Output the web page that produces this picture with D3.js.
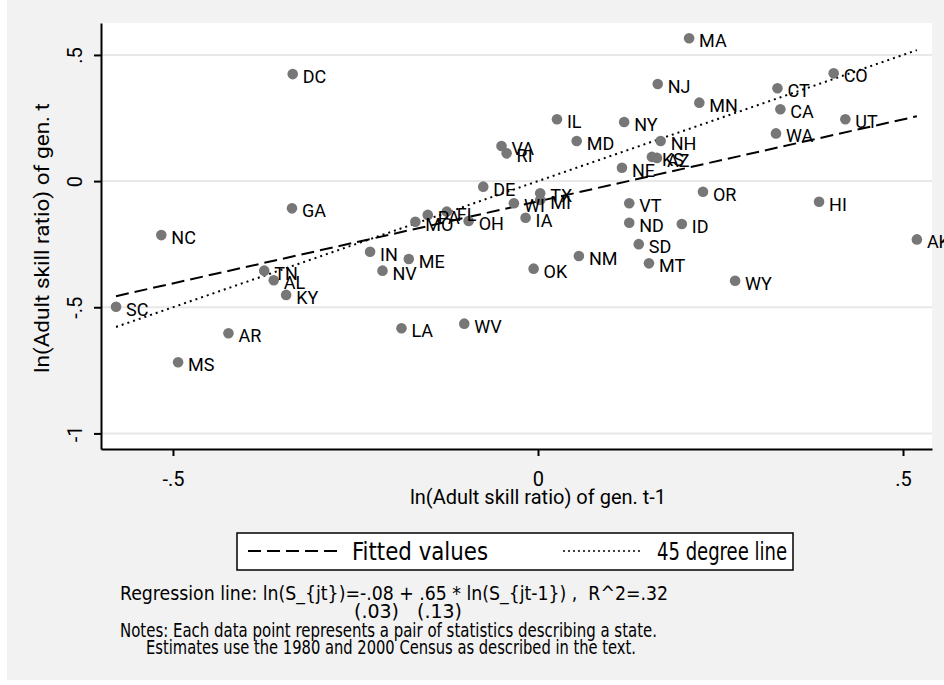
<!DOCTYPE html>
<html>
<head>
<meta charset="utf-8">
<script src="https://cdn.jsdelivr.net/npm/d3@7"></script>
<style>
  body { margin: 0; background: #fff; }
  text { font-family: Roboto, "DejaVu Sans", sans-serif; }
  .note { font-family: "DejaVu Sans Condensed", "Liberation Sans Narrow", sans-serif; white-space: pre; }
</style>
</head>
<body>
<div class="canva"></div>
<script>
// state codes and the two log skill ratios
const states = ["MA","DC","GA","NC","SC","TN","AL","KY","AR","MS",
                "IN","NV","ME","OK","NM","SD","MT","LA","WV","WY",
                "AK","ID","OR","HI","CO","CT","CA","WA","UT","NJ",
                "MN","NY","MD","IL","NH","KS","AZ","NE","VA","RI",
                "DE","TX","WI","MI","PA","FL","MO","OH","IA","VT","ND"];
const prevRatio = [0.207,-0.336,-0.337,-0.516,-0.578,-0.375,-0.362,-0.345,-0.424,-0.493,
                   -0.230,-0.213,-0.177,-0.006,0.056,0.138,0.152,-0.187,-0.101,0.270,
                   0.519,0.197,0.226,0.385,0.405,0.328,0.332,0.326,0.421,0.164,
                   0.221,0.118,0.053,0.026,0.168,0.156,0.163,0.115,-0.050,-0.043,
                   -0.075,0.003,-0.033,0.003,-0.151,-0.125,-0.168,-0.095,-0.017,0.125,0.125];
const curRatio = [0.566,0.424,-0.108,-0.214,-0.498,-0.355,-0.393,-0.451,-0.603,-0.718,
                  -0.280,-0.355,-0.309,-0.347,-0.297,-0.250,-0.326,-0.583,-0.565,-0.395,
                  -0.231,-0.170,-0.042,-0.082,0.427,0.368,0.285,0.189,0.245,0.385,
                  0.311,0.234,0.159,0.245,0.159,0.096,0.092,0.053,0.139,0.110,
                  -0.022,-0.048,-0.088,-0.075,-0.134,-0.121,-0.161,-0.158,-0.145,-0.088,-0.165];

// end points of the fitted line and of the 45 degree line
const fitX = [-0.578, 0.519];
const fitY = [-0.456, 0.257];
const diagX = [-0.578, 0.519];
const diagY = [-0.578, 0.519];

const xTicks = [-0.5, 0, 0.5];
const xTickLabels = ["-.5", "0", ".5"];
const yTicks = [-1, -0.5, 0, 0.5];
const yTickLabels = ["-1", "-.5", "0", ".5"];

const legendLabels = ["Fitted values", "45 degree line"];
const noteLines = [
  "Regression line: ln(S_{jt})=-.08 + .65 * ln(S_{jt-1}) ,  R^2=.32",
  "(.03)   (.13)",
  "Notes: Each data point represents a pair of statistics describing a state.",
  "Estimates use the 1980 and 2000 Census as described in the text."
];

const width = 944, height = 685;
const plot = {left: 101, right: 932, top: 23, bottom: 449};

const svg = d3.select(".canva").append("svg")
            .attr("width", width)
            .attr("height", height);

svg.append("rect")
    .attr("x", 7).attr("y", 0)
    .attr("width", width - 7).attr("height", 680)
    .attr("fill", "#f2f2f2");

svg.append("rect")
    .attr("x", plot.left).attr("y", plot.top)
    .attr("width", plot.right - plot.left)
    .attr("height", plot.bottom - plot.top)
    .attr("fill", "#fff");

const x = d3.scaleLinear().domain([-0.5986, 0.5397]).range([plot.left, plot.right]);
const y = d3.scaleLinear().domain([-1.0618, 0.6266]).range([plot.bottom, plot.top]);

// grid
svg.append("g").selectAll("line")
    .data(yTicks)
    .enter().append("line")
    .attr("x1", plot.left).attr("x2", plot.right)
    .attr("y1", d => y(d)).attr("y2", d => y(d))
    .attr("stroke", "#e8e8e8")
    .attr("stroke-width", 2);

// axes
const xAxis = d3.axisBottom(x).tickValues(xTicks)
    .tickFormat((d, i) => xTickLabels[i]).tickSize(7).tickSizeOuter(0);
const yAxis = d3.axisLeft(y).tickValues(yTicks)
    .tickFormat((d, i) => yTickLabels[i]).tickSize(7).tickSizeOuter(0);

const gx = svg.append("g")
    .attr("transform", `translate(0,${plot.bottom})`)
    .call(xAxis);
const gy = svg.append("g")
    .attr("transform", `translate(${plot.left},0)`)
    .call(yAxis);

[gx, gy].forEach(g => {
    g.select(".domain").attr("stroke", "#000").attr("stroke-width", 2);
    g.selectAll(".tick line").attr("stroke", "#000").attr("stroke-width", 2);
    g.selectAll(".tick text").attr("fill", "#000")
        .style("font-family", "Roboto").style("font-size", "20px");
});
gx.selectAll(".tick text").attr("dy", "0.3em").attr("y", 31);
gy.selectAll(".tick text")
    .attr("x", 0).attr("dy", 0)
    .attr("text-anchor", "middle")
    .attr("transform", "translate(-19,0) rotate(-90)");

// axis titles
svg.append("text")
    .attr("x", x(0)).attr("y", 504)
    .attr("text-anchor", "middle")
    .style("font-size", "20px")
    .text("ln(Adult skill ratio) of gen. t-1");

svg.append("text")
    .attr("transform", "translate(49,238) rotate(-90)")
    .attr("text-anchor", "middle")
    .attr("textLength", 270)
    .attr("lengthAdjust", "spacingAndGlyphs")
    .style("font-size", "21px")
    .text("ln(Adult skill ratio) of gen. t");

// lines
const line = d3.line().x(d => x(d[0])).y(d => y(d[1]));

svg.append("path")
    .datum(fitX.map((d, i) => [d, fitY[i]]))
    .attr("d", line)
    .attr("fill", "none").attr("stroke", "#000")
    .attr("stroke-width", 2).attr("stroke-dasharray", "13,6");

svg.append("path")
    .datum(diagX.map((d, i) => [d, diagY[i]]))
    .attr("d", line)
    .attr("fill", "none").attr("stroke", "#000")
    .attr("stroke-width", 2).attr("stroke-dasharray", "2,4");

// points and labels
const pts = states.map((s, i) => ({s: s, x: prevRatio[i], y: curRatio[i]}));

svg.append("g").selectAll("circle")
    .data(pts)
    .enter().append("circle")
    .attr("cx", d => x(d.x))
    .attr("cy", d => y(d.y))
    .attr("r", 5.3)
    .attr("fill", "#777");

svg.append("g").selectAll("text")
    .data(pts)
    .enter().append("text")
    .attr("x", d => x(d.x) + 10)
    .attr("y", d => y(d.y) + 9)
    .style("font-size", "18px")
    .attr("fill", "#000")
    .text(d => d.s);

// legend
const leg = svg.append("g");
leg.append("rect")
    .attr("x", 237).attr("y", 533)
    .attr("width", 556).attr("height", 37)
    .attr("fill", "#fff").attr("stroke", "#000").attr("stroke-width", 1.5);
leg.append("line")
    .attr("x1", 248).attr("x2", 343).attr("y1", 551).attr("y2", 551)
    .attr("stroke", "#000").attr("stroke-width", 2).attr("stroke-dasharray", "13,6");
leg.append("line")
    .attr("x1", 563).attr("x2", 640).attr("y1", 551).attr("y2", 551)
    .attr("stroke", "#000").attr("stroke-width", 1.5).attr("stroke-dasharray", "2,3");
leg.selectAll(".lt")
    .data(legendLabels)
    .enter().append("text")
    .attr("class", "note")
    .attr("x", (d, i) => [352, 657][i])
    .attr("y", 560)
    .attr("textLength", (d, i) => [136, 130][i])
    .attr("lengthAdjust", "spacingAndGlyphs")
    .style("font-size", "25px")
    .text(d => d);

// notes
svg.append("g").selectAll("text")
    .data(noteLines)
    .enter().append("text")
    .attr("class", "note")
    .attr("x", (d, i) => [120, 354, 120, 146][i])
    .attr("y", (d, i) => [600, 618, 637, 654][i])
    .attr("textLength", (d, i) => [548, 108, 537, 490][i])
    .attr("lengthAdjust", "spacingAndGlyphs")
    .style("font-size", "19px")
    .text(d => d);
</script>
</body>
</html>
